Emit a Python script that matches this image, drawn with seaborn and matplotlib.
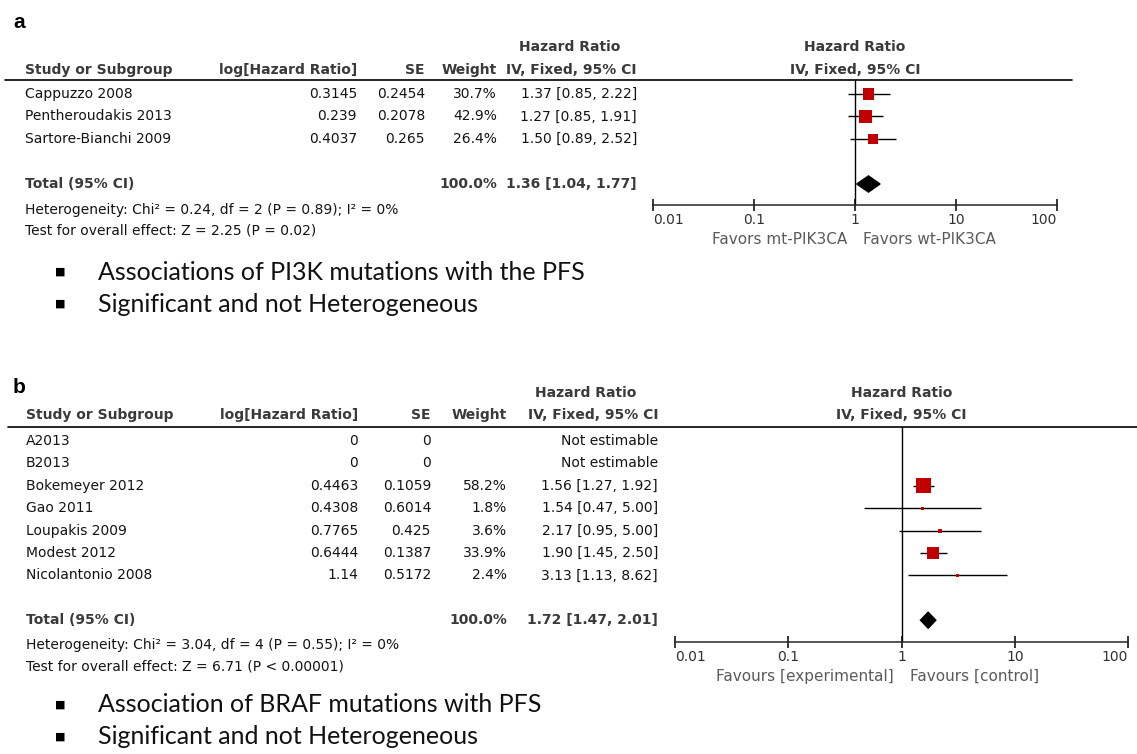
import numpy as np
import pandas as pd
import matplotlib
matplotlib.use("Agg")
import matplotlib.pyplot as plt
import matplotlib.transforms as mtrans
from matplotlib.ticker import NullLocator
import seaborn as sns

# ---- panel a: PI3K mutations / PFS
studies_a = ["Cappuzzo 2008", "Pentheroudakis 2013", "Sartore-Bianchi 2009"]
loghr_a = [0.3145, 0.239, 0.4037]
se_a = [0.2454, 0.2078, 0.265]
weight_a = [30.7, 42.9, 26.4]
hr_a = [1.37, 1.27, 1.50]
lo_a = [0.85, 0.85, 0.89]
hi_a = [2.22, 1.91, 2.52]
total_a = [100.0, 1.36, 1.04, 1.77]   # weight, HR, lower, upper
het_a = "Heterogeneity: Chi\u00b2 = 0.24, df = 2 (P = 0.89); I\u00b2 = 0%"
test_a = "Test for overall effect: Z = 2.25 (P = 0.02)"
favors_a = ["Favors mt-PIK3CA", "Favors wt-PIK3CA"]
bullets_a = ["Associations of PI3K mutations with the PFS",
             "Significant and not Heterogeneous"]

# ---- panel b: BRAF mutations / PFS
studies_b = ["A2013", "B2013", "Bokemeyer 2012", "Gao 2011", "Loupakis 2009",
             "Modest 2012", "Nicolantonio 2008"]
loghr_b = [0, 0, 0.4463, 0.4308, 0.7765, 0.6444, 1.14]
se_b = [0, 0, 0.1059, 0.6014, 0.425, 0.1387, 0.5172]
weight_b = [np.nan, np.nan, 58.2, 1.8, 3.6, 33.9, 2.4]
hr_b = [np.nan, np.nan, 1.56, 1.54, 2.17, 1.90, 3.13]
lo_b = [np.nan, np.nan, 1.27, 0.47, 0.95, 1.45, 1.13]
hi_b = [np.nan, np.nan, 1.92, 5.00, 5.00, 2.50, 8.62]
total_b = [100.0, 1.72, 1.47, 2.01]
het_b = "Heterogeneity: Chi\u00b2 = 3.04, df = 4 (P = 0.55); I\u00b2 = 0%"
test_b = "Test for overall effect: Z = 6.71 (P < 0.00001)"
favors_b = ["Favours [experimental]", "Favours [control]"]
bullets_b = ["Association of BRAF mutations with PFS",
             "Significant and not Heterogeneous"]

ticks = [0.01, 0.1, 1, 10, 100]
tick_labels = ["0.01", "0.1", "1", "10", "100"]

sns.set_style("white")
plt.rcParams["font.family"] = ["DejaVu Sans"]

W, H = 1137, 754
fig = plt.figure(figsize=(W / 100, H / 100), dpi=100)
bg = fig.add_axes([0, 0, 1, 1])
bg.set_xlim(0, W)
bg.set_ylim(H, 0)
bg.axis("off")

TXT = "#141414"
BOLD = "#3a3a3a"
FS = 10


def forest(letter, studies, loghr, se, weight, hr, lo, hi, total,
           het, test, favors, bullets, lay):
    x0, x1 = lay["axis_x"]
    ax = fig.add_axes([x0 / W, 1 - lay["axis_y"] / H,
                       (x1 - x0) / W, (lay["axis_y"] - lay["line_y"]) / H])
    ax.patch.set_alpha(0)
    ax.set_xscale("log")
    ax.set_xlim(0.01, 100)
    step = lay["step"]
    ax.set_ylim((lay["axis_y"] - lay["row0"]) / step,
                -(lay["row0"] - lay["line_y"]) / step)
    n = len(studies)
    trow = n + 1

    df = pd.DataFrame({"row": np.arange(n), "hr": hr, "lo": lo, "hi": hi,
                       "weight": weight}).dropna()
    ax.hlines(df["row"], df["lo"], df["hi"], color="black", lw=1, zorder=2)
    sns.scatterplot(data=df, x="hr", y="row", size="weight",
                    sizes=(0, 2.1 * df["weight"].max()),
                    size_norm=(0, df["weight"].max()),
                    marker="s", color="#c00000", linewidth=0,
                    legend=False, ax=ax, zorder=3)
    h = 0.36
    ax.fill([total[2], total[1], total[3], total[1]],
            [trow, trow - h, trow, trow + h], color="black", zorder=3)
    ax.axvline(1, color="black", lw=1)

    sns.despine(ax=ax, left=True)
    ax.spines["bottom"].set_linewidth(1.1)
    ax.set_yticks([])
    ax.set_xlabel("")
    ax.set_ylabel("")
    ax.set_xticks(ticks)
    ax.set_xticklabels(tick_labels)
    ax.xaxis.set_minor_locator(NullLocator())
    ax.tick_params(axis="x", bottom=True, direction="inout", length=8.5,
                   width=1.1, color="black", labelcolor="#303030",
                   labelsize=10, pad=1.5)
    labs = ax.get_xticklabels()
    labs[0].set_ha("left")
    labs[-1].set_ha("right")

    # table text
    tr = mtrans.blended_transform_factory(bg.transData, ax.transData)
    c = lay["cols"]
    for i in range(n):
        bg.text(c[0], i, studies[i], transform=tr, ha="left", va="center",
                fontsize=FS, color=TXT)
        bg.text(c[1], i, f"{loghr[i]:g}", transform=tr, ha="right",
                va="center", fontsize=FS, color=TXT)
        bg.text(c[2], i, f"{se[i]:g}", transform=tr, ha="right",
                va="center", fontsize=FS, color=TXT)
        if np.isnan(weight[i]):
            ci = "Not estimable"
        else:
            bg.text(c[3], i, f"{weight[i]:.1f}%", transform=tr, ha="right",
                    va="center", fontsize=FS, color=TXT)
            ci = f"{hr[i]:.2f} [{lo[i]:.2f}, {hi[i]:.2f}]"
        bg.text(c[4], i, ci, transform=tr, ha="right", va="center",
                fontsize=FS, color=TXT)
    bg.text(c[0], trow, "Total (95% CI)", transform=tr, ha="left",
            va="center", fontsize=FS, color=BOLD, fontweight="bold")
    bg.text(c[3], trow, f"{total[0]:.1f}%", transform=tr, ha="right",
            va="center", fontsize=FS, color=BOLD, fontweight="bold")
    bg.text(c[4], trow, f"{total[1]:.2f} [{total[2]:.2f}, {total[3]:.2f}]",
            transform=tr, ha="right", va="center", fontsize=FS, color=BOLD,
            fontweight="bold")

    # headers
    y1, y2 = lay["hdr1"], lay["hdr2"]
    hb = dict(va="center", fontsize=FS, color=BOLD, fontweight="bold")
    bg.text(c[0], y2, "Study or Subgroup", ha="left", **hb)
    bg.text(c[1], y2, "log[Hazard Ratio]", ha="right", **hb)
    bg.text(c[2], y2, "SE", ha="right", **hb)
    bg.text(c[3], y2, "Weight", ha="right", **hb)
    bg.text(c[4], y2, "IV, Fixed, 95% CI", ha="right", **hb)
    bg.text(lay["hr_x"], y1, "Hazard Ratio", ha="center", **hb)
    mid = (x0 + x1) / 2
    bg.text(mid, y1, "Hazard Ratio", ha="center", **hb)
    bg.text(mid, y2, "IV, Fixed, 95% CI", ha="center", **hb)
    bg.plot(lay["line_x"], [lay["line_y"]] * 2, color="black", lw=1.2)

    bg.text(c[0], lay["het_y"], het, ha="left", va="center", fontsize=FS,
            color=TXT)
    bg.text(c[0], lay["test_y"], test, ha="left", va="center", fontsize=FS,
            color=TXT)
    bg.text(mid - 8, lay["fav_y"], favors[0], ha="right", va="center",
            fontsize=11, color="#5a5a5a")
    bg.text(mid + 8, lay["fav_y"], favors[1], ha="left", va="center",
            fontsize=11, color="#5a5a5a")

    bg.text(13, lay["letter_y"], letter, ha="left", va="baseline",
            fontsize=15, fontweight="bold", color="black",
            family="Liberation Sans")
    for y, t in zip(lay["bul_y"], bullets):
        bg.text(60, y, "\u25a0", ha="center", va="center", fontsize=8,
                color="black")
        bg.text(98, y, t, ha="left", va="center", fontsize=18,
                family="Lato", color="#111111")


lay_a = dict(letter_y=28, hdr1=47, hdr2=70, line_y=80, line_x=(5, 1072),
             row0=94, step=22.5, axis_y=205, axis_x=(653, 1057),
             cols=(25, 357, 425, 497, 637), hr_x=570, het_y=210, test_y=231,
             fav_y=239, bul_y=(272, 304))
lay_b = dict(letter_y=393, hdr1=393, hdr2=415, line_y=427, line_x=(8, 1137),
             row0=441, step=22.4, axis_y=642, axis_x=(675, 1128),
             cols=(26, 358, 431, 507, 658), hr_x=586, het_y=645, test_y=667,
             fav_y=676, bul_y=(705, 737))

forest("a", studies_a, loghr_a, se_a, weight_a, hr_a, lo_a, hi_a, total_a,
       het_a, test_a, favors_a, bullets_a, lay_a)
forest("b", studies_b, loghr_b, se_b, weight_b, hr_b, lo_b, hi_b, total_b,
       het_b, test_b, favors_b, bullets_b, lay_b)

fig.savefig("out.png", dpi=100)
